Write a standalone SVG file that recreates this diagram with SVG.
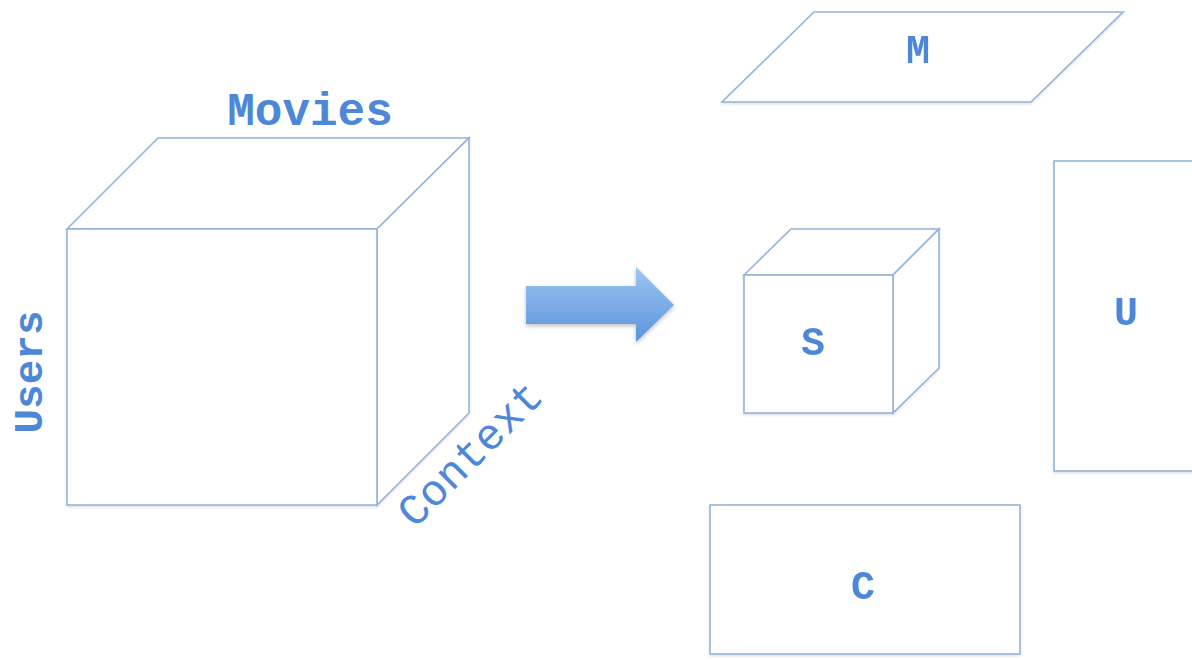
<svg xmlns="http://www.w3.org/2000/svg" width="1192" height="660" viewBox="0 0 1192 660">
  <defs>
    <linearGradient id="arrowFill" x1="0" y1="0" x2="0" y2="1">
      <stop offset="0" stop-color="#9dc5f1"/>
      <stop offset="1" stop-color="#5b94dc"/>
    </linearGradient>
    <filter id="softShadow" x="-10%" y="-20%" width="130%" height="150%">
      <feDropShadow dx="0" dy="2" stdDeviation="2" flood-color="#000" flood-opacity="0.25"/>
    </filter>
    <filter id="edgeShadow" x="-5%" y="-5%" width="110%" height="110%">
      <feDropShadow dx="0" dy="1.5" stdDeviation="1.2" flood-color="#000" flood-opacity="0.12"/>
    </filter>
  </defs>
  <style>
    .edge { fill: #ffffff; stroke: #93b3da; stroke-width: 1.6; stroke-linejoin: miter; }
    .lbl { fill: #4d88d8; font-family: "Liberation Mono", "Courier New", monospace; font-weight: bold; text-anchor: middle; }
    .ctx { font-weight: normal; font-size: 44px; }
    .letter { font-size: 40px; }
  </style>
  <rect width="1192" height="660" fill="#ffffff"/>

  <!-- tensor cube: Users x Movies x Context -->
  <g id="tensor" filter="url(#edgeShadow)">
    <polygon class="edge" points="67,229 158,138 469,138 377,229"/>
    <polygon class="edge" points="377,229 469,138 469,413 377,505"/>
    <rect class="edge" x="67" y="229" width="310" height="276"/>
  </g>
  <g id="tensor-labels">
    <text class="lbl" x="310" y="125" style="font-size:46px">Movies</text>
    <text class="lbl" transform="translate(42,372) rotate(-90)" style="font-size:41px">Users</text>
    <text class="lbl ctx" transform="translate(480,464) rotate(-45)">Context</text>
  </g>

  <!-- decomposition arrow -->
  <g id="arrow" filter="url(#softShadow)">
    <polygon points="526,286 636,286 636,267 674,305 636,342 636,324 526,324" fill="url(#arrowFill)"/>
  </g>

  <!-- factor M -->
  <g id="factor-M" filter="url(#edgeShadow)">
    <polygon class="edge" points="814,12 1123,12 1031,102 722,102"/>
    <text class="lbl letter" x="918" y="63">M</text>
  </g>

  <!-- core tensor S -->
  <g id="core-S" filter="url(#edgeShadow)">
    <polygon class="edge" points="744,275 791,229 939,229 893,275"/>
    <polygon class="edge" points="893,275 939,229 939,368 893,413"/>
    <rect class="edge" x="744" y="275" width="149" height="138"/>
    <text class="lbl letter" x="813" y="355">S</text>
  </g>

  <!-- factor U -->
  <g id="factor-U" filter="url(#edgeShadow)">
    <rect class="edge" x="1054" y="161" width="160" height="310"/>
    <text class="lbl letter" x="1126" y="325">U</text>
  </g>

  <!-- factor C -->
  <g id="factor-C" filter="url(#edgeShadow)">
    <rect class="edge" x="710" y="505" width="310" height="149"/>
    <text class="lbl letter" x="863" y="599">C</text>
  </g>

  <g id="connectors"/>
</svg>
